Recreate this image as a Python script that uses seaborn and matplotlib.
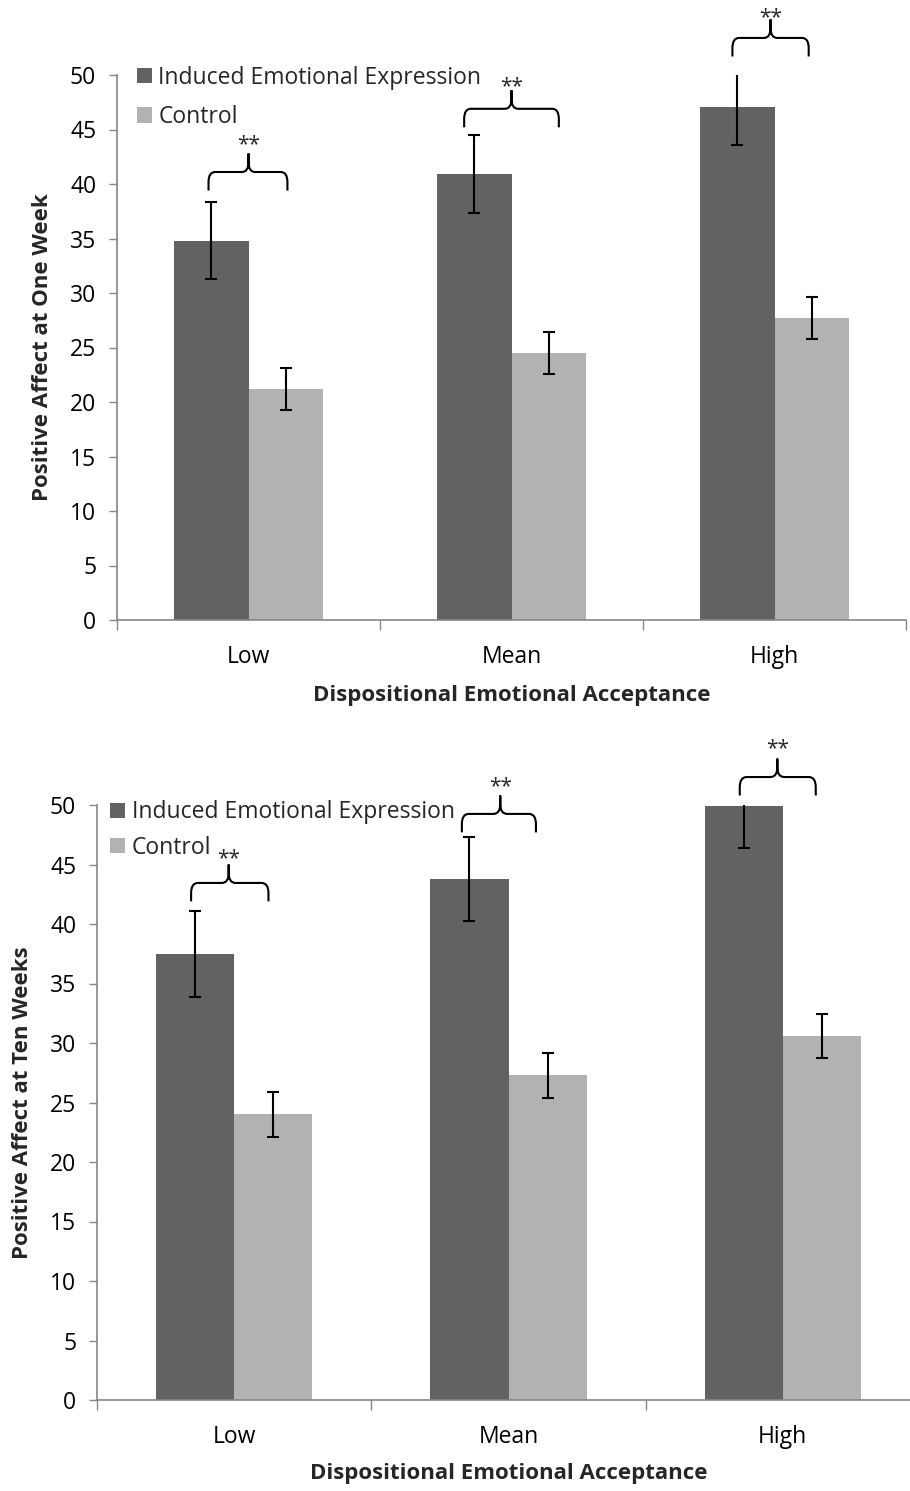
import numpy as np
import pandas as pd
import matplotlib
matplotlib.use("Agg")
import matplotlib.pyplot as plt
from matplotlib.path import Path
from matplotlib.patches import PathPatch
import seaborn as sns

# values
levels = ["Low", "Mean", "High"]
groups = ["Induced Emotional Expression", "Control"]

week1_expr = [34.8, 40.9, 47.1]
week1_expr_err = [3.55, 3.55, 3.55]
week1_ctrl = [21.2, 24.5, 27.7]
week1_ctrl_err = [1.9, 1.9, 1.9]

week10_expr = [37.5, 43.8, 49.9]
week10_expr_err = [3.6, 3.55, 3.5]
week10_ctrl = [24.0, 27.3, 30.6]
week10_ctrl_err = [1.9, 1.9, 1.85]

# significance braces: base of legs (data units) per level
week1_brace_base = [39.4, 45.2, 51.7]
week10_brace_base = [41.9, 47.7, 50.8]

DARK = "#626262"
LIGHT = "#b2b2b2"
AXIS = "#868686"

sns.set_theme(style="white")
plt.rcParams["font.family"] = ["Open Sans", "DejaVu Sans"]


def brace(ax, xc, left, right, tip, yb, h, star_off):
    x0, x1, xm = xc + left, xc + right, xc + tip
    y1 = yb + h
    y2 = y1 + h
    rx, ry = 0.025, h * 0.55
    verts = [(x0, yb), (x0, y1 - ry), (x0, y1), (x0 + rx, y1),
             (xm - rx, y1), (xm, y1), (xm, y1 + ry), (xm, y2),
             (xm, y2), (xm, y1 + ry), (xm, y1), (xm + rx, y1),
             (x1 - rx, y1), (x1, y1), (x1, y1 - ry), (x1, yb)]
    codes = [Path.MOVETO, Path.LINETO, Path.CURVE3, Path.CURVE3,
             Path.LINETO, Path.CURVE3, Path.CURVE3, Path.LINETO,
             Path.MOVETO, Path.LINETO, Path.CURVE3, Path.CURVE3,
             Path.LINETO, Path.CURVE3, Path.CURVE3, Path.LINETO]
    ax.add_patch(PathPatch(Path(verts, codes), fill=False, lw=1.5,
                           edgecolor="black", clip_on=False))
    ax.annotate("**", (xm, y2), xytext=(0, star_off),
                textcoords="offset points", ha="center", va="center",
                fontsize=15, annotation_clip=False)


def panel(ax, expr, expr_err, ctrl, ctrl_err, ylabel, brace_base, brace_geo,
          h, leg_anchor, leg_space, xlab_y, ylab_x):
    df = pd.DataFrame({
        "level": levels * 2,
        "group": [groups[0]] * 3 + [groups[1]] * 3,
        "value": expr + ctrl,
    })
    sns.barplot(data=df, x="level", y="value", hue="group", order=levels,
                hue_order=groups, palette=[DARK, LIGHT], errorbar=None,
                width=0.57, gap=0, saturation=1, linewidth=0, ax=ax)
    for cont, err in zip(ax.containers, [expr_err, ctrl_err]):
        xs = [b.get_x() + b.get_width() / 2 for b in cont]
        ys = [b.get_height() for b in cont]
        ax.errorbar(xs, ys, yerr=err, fmt="none", ecolor="black",
                    elinewidth=1.5, capsize=4, capthick=1.5, zorder=3)

    ax.set_ylim(0, 50)
    ax.set_xlim(-0.5, 2.5)
    ax.set_yticks(range(0, 51, 5))
    ax.set_xticks([0, 1, 2])
    ax.set_xticklabels(levels)
    ax.set_xticks([-0.5, 0.5, 1.5, 2.5], minor=True)
    ax.tick_params(axis="x", which="major", length=0, pad=18, labelsize=16.5,
                   colors="black")
    ax.tick_params(axis="x", which="minor", length=7, width=1, color=AXIS,
                   direction="out", bottom=True)
    ax.tick_params(axis="y", length=6, width=1, color=AXIS, left=True,
                   direction="out", pad=9, labelsize=16.5, labelcolor="black")
    for s in ["top", "right"]:
        ax.spines[s].set_visible(False)
    for s in ["left", "bottom"]:
        ax.spines[s].set_color(AXIS)
        ax.spines[s].set_linewidth(1.2)

    ax.set_xlabel("Dispositional Emotional Acceptance", fontsize=16,
                  fontweight="bold", va="center")
    ax.xaxis.set_label_coords(0.5, xlab_y)
    ax.set_ylabel(ylabel, fontsize=16, fontweight="bold", va="center")
    ax.yaxis.set_label_coords(ylab_x, 0.5)

    handles, labels = ax.get_legend_handles_labels()
    ax.legend(handles, labels, loc="upper left", bbox_to_anchor=leg_anchor,
              frameon=False, fontsize=16.5, handlelength=0.65,
              handleheight=0.65, handletextpad=0.3, labelspacing=leg_space,
              borderaxespad=0, borderpad=0)

    for i, geo in enumerate(brace_geo):
        brace(ax, i, geo[0], geo[1], geo[2], brace_base[i], h, geo[3])


fig = plt.figure(figsize=(9.10, 14.91), dpi=100)
ax1 = fig.add_axes([117 / 910, 1 - 620 / 1491, 789 / 910, 545 / 1491])
ax2 = fig.add_axes([97 / 910, 1 - 1400 / 1491, 823 / 910, 595 / 1491])

panel(ax1, week1_expr, week1_expr_err, week1_ctrl, week1_ctrl_err,
      "Positive Affect at One Week", week1_brace_base,
      [(-0.152, 0.148, 0.0, 6.5), (-0.18, 0.18, 0.0, 2.5),
       (-0.16, 0.13, -0.015, 1.5)],
      1.7, (0.025, 1.017), 0.67, -0.139, -0.095)
panel(ax2, week10_expr, week10_expr_err, week10_ctrl, week10_ctrl_err,
      "Positive Affect at Ten Weeks", week10_brace_base,
      [(-0.157, 0.125, -0.02, 4.5), (-0.17, 0.10, -0.03, 6.5),
       (-0.157, 0.12, -0.02, 7)],
      1.55, (0.016, 1.008), 0.5, -0.123, -0.091)

fig.savefig("out.png", dpi=100, facecolor="white")
